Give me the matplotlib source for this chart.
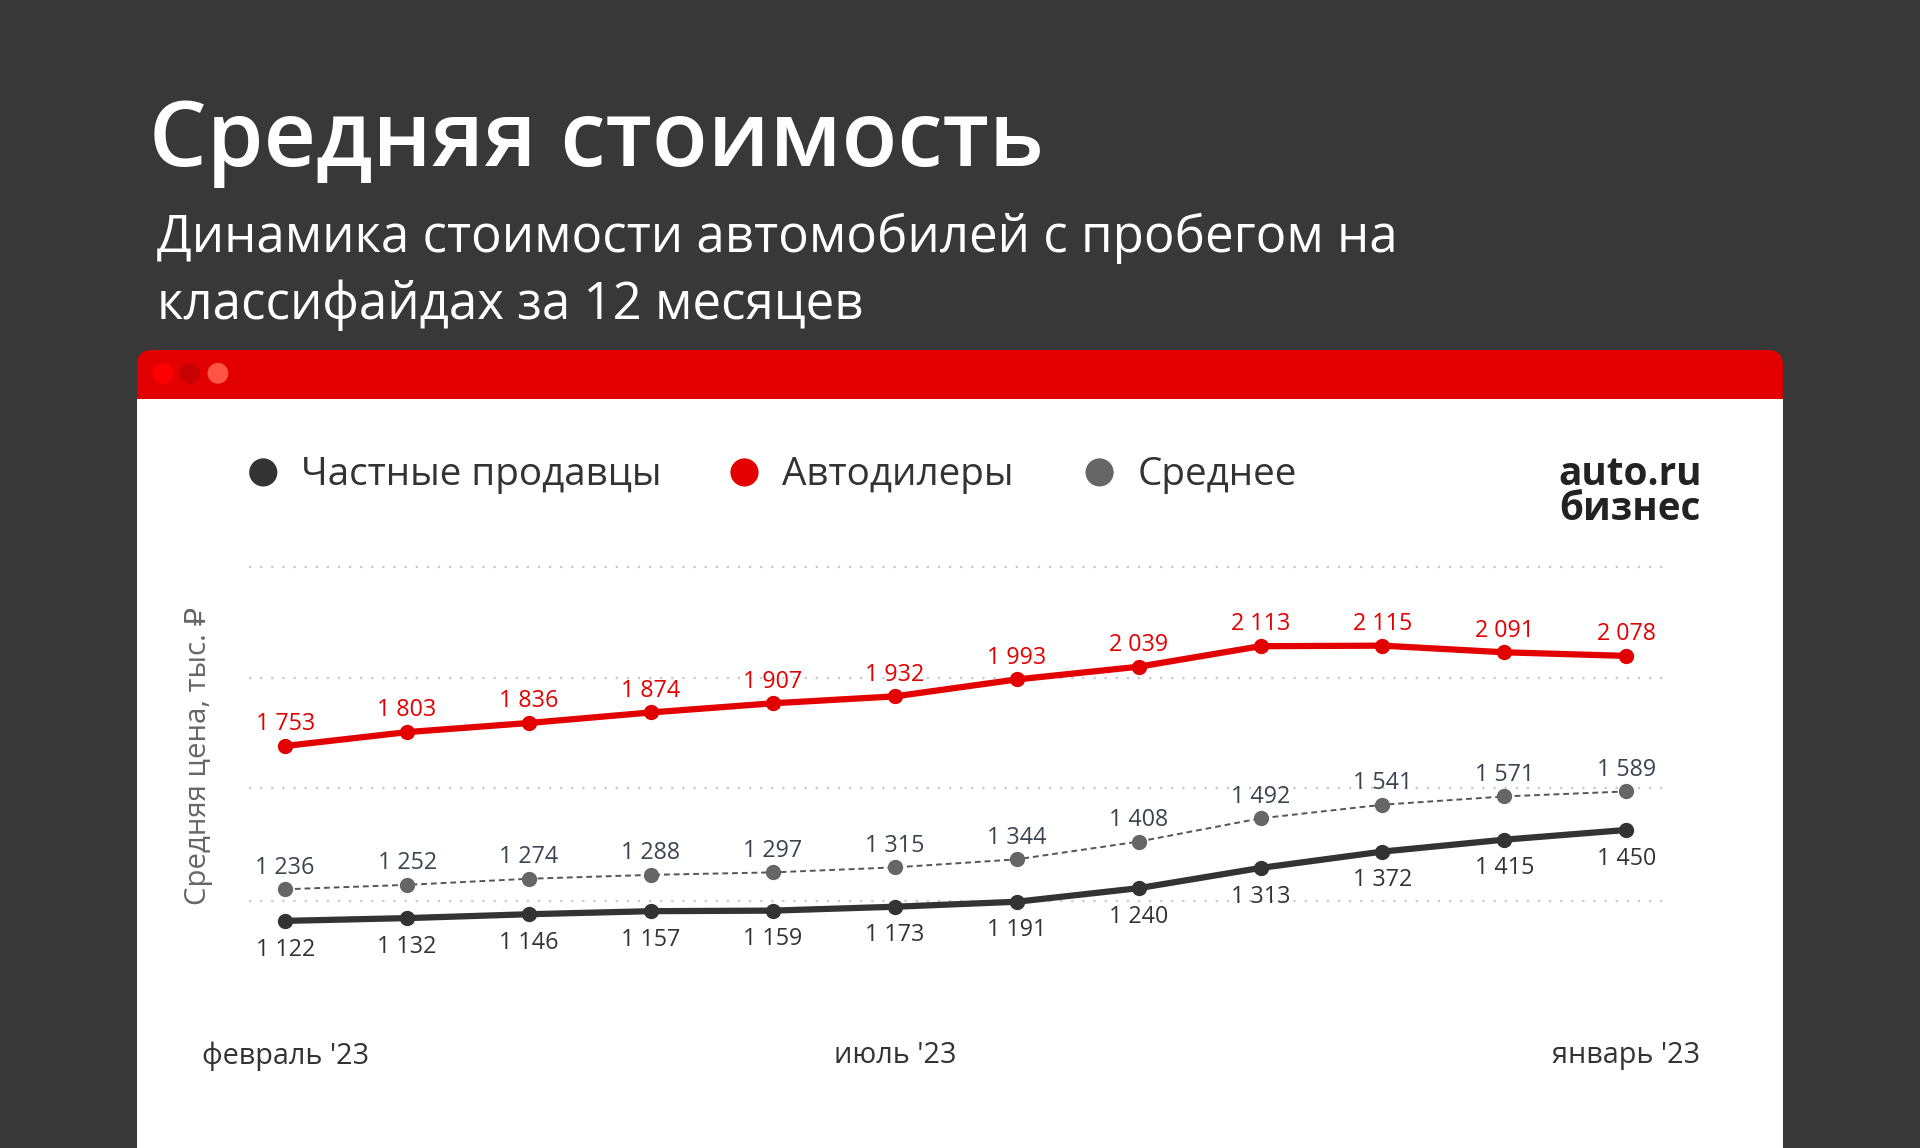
import matplotlib
matplotlib.use("Agg")
import matplotlib.pyplot as plt
from matplotlib.patches import FancyBboxPatch, Rectangle, Circle

# ---- data ----
months = ["февраль '23", "март '23", "апрель '23", "май '23", "июнь '23", "июль '23",
          "август '23", "сентябрь '23", "октябрь '23", "ноябрь '23", "декабрь '23", "январь '23"]
tick_idx = [0, 5, 11]
private = [1122, 1132, 1146, 1157, 1159, 1173, 1191, 1240, 1313, 1372, 1415, 1450]
dealers = [1753, 1803, 1836, 1874, 1907, 1932, 1993, 2039, 2113, 2115, 2091, 2078]
average = [1236, 1252, 1274, 1288, 1297, 1315, 1344, 1408, 1492, 1541, 1571, 1589]
grid_vals = [1195, 1600, 2000, 2400]
series_names = ["Частные продавцы", "Автодилеры", "Среднее"]

FONT = ["Open Sans", "DejaVu Sans"]
plt.rcParams['font.family'] = FONT

BG = "#383838"
RED = "#e30000"
DARK = "#333333"
GRAY = "#666666"

W, H = 1568, 938  # design pixel units
fig = plt.figure(figsize=(19.2, 11.48), dpi=100)
fig.patch.set_facecolor(BG)

bg = fig.add_axes([0, 0, 1, 1])
bg.set_xlim(0, W)
bg.set_ylim(H, 0)
bg.axis("off")
bg.set_facecolor(BG)

def pt(px):
    return px * 0.8816

# title & subtitle
bg.text(122, 136, "Средняя стоимость", color="white", fontsize=pt(74.5), fontweight="semibold",
        ha="left", va="baseline")
bg.text(128, 206, "Динамика стоимости автомобилей с пробегом на", color="white",
        fontsize=pt(41.7), ha="left", va="baseline")
bg.text(128, 261, "классифайдах за 12 месяцев", color="white",
        fontsize=pt(41.7), ha="left", va="baseline")

# card
bg.add_patch(FancyBboxPatch((112, 286), 1344, 120, boxstyle="round,pad=0,rounding_size=12",
                            facecolor=RED, edgecolor="none"))
bg.add_patch(Rectangle((112, 326), 1344, H - 326 + 5, facecolor="white", edgecolor="none"))
for cx, col in [(133, "#ff0000"), (155, "#c80000"), (178, "#ff5545")]:
    bg.add_patch(Circle((cx, 305), 8.5, facecolor=col, edgecolor="none"))

# legend
leg_cols = [DARK, RED, GRAY]
leg_mx = [215, 608, 898]
for name, col, mx in zip(series_names, leg_cols, leg_mx):
    bg.add_patch(Circle((mx, 386), 11.5, facecolor=col, edgecolor="none"))
    bg.text(mx + 31, 388, name, color=DARK, fontsize=pt(31.5), ha="left", va="center")

# logo
bg.text(1331, 396, "auto.ru", color="#222222", fontsize=pt(31.5), fontweight="bold",
        ha="center", va="baseline")
bg.text(1331, 425, "бизнес", color="#222222", fontsize=pt(31.5), fontweight="bold",
        ha="center", va="baseline")

# y label
bg.text(162, 618, "Средняя цена, тыс. ₽", color=GRAY, fontsize=pt(24), rotation=90,
        ha="center", va="center")

# ---- chart axes ----
x_left, x_right = 203, 1360
y_top, y_bot = 463, 795
ax = fig.add_axes([x_left / W, 1 - y_bot / H, (x_right - x_left) / W, (y_bot - y_top) / H])
ax.set_facecolor("none")
x = list(range(len(months)))
ax.set_xlim(-0.30, 11.32)
ax.set_ylim(934, 2400)
for s in ax.spines.values():
    s.set_visible(False)
ax.set_yticks(grid_vals)
ax.set_yticklabels([])
ax.tick_params(axis="y", length=0)
ax.grid(axis="y", color="#c8c8c8", linestyle=(0, (1, 4)), linewidth=1.6)
ax.set_axisbelow(True)
ax.set_xticks(tick_idx)
ax.set_xticklabels([months[i] for i in tick_idx], color=DARK, fontsize=pt(23.5))
ax.tick_params(axis="x", length=0, pad=49)
for gl in ax.get_ygridlines():
    gl.set_clip_on(False)

ax.plot(x, average, color="#555555", linewidth=1.4, linestyle=(0, (3, 2)),
        marker="o", markersize=10, markerfacecolor=GRAY, markeredgecolor=GRAY, zorder=3, clip_on=False)
ax.plot(x, private, color=DARK, linewidth=4.5, marker="o", markersize=10,
        markerfacecolor=DARK, markeredgecolor=DARK, zorder=4, clip_on=False)
ax.plot(x, dealers, color=RED, linewidth=4.5, marker="o", markersize=10,
        markerfacecolor=RED, markeredgecolor=RED, zorder=4, clip_on=False)

def fmt(v):
    return f"{v:,}".replace(",", " ")

lab_fs = pt(19)
for xi, v in zip(x, dealers):
    ax.annotate(fmt(v), (xi, v), xytext=(0, 7), textcoords="offset points",
                ha="center", va="bottom", color=RED, fontsize=lab_fs)
for xi, v in zip(x, average):
    ax.annotate(fmt(v), (xi, v), xytext=(0, 7), textcoords="offset points",
                ha="center", va="bottom", color="#3a4450", fontsize=lab_fs)
for xi, v in zip(x, private):
    ax.annotate(fmt(v), (xi, v), xytext=(0, -12), textcoords="offset points",
                ha="center", va="top", color=DARK, fontsize=lab_fs)

fig.savefig("out.png", dpi=100, facecolor=BG)
